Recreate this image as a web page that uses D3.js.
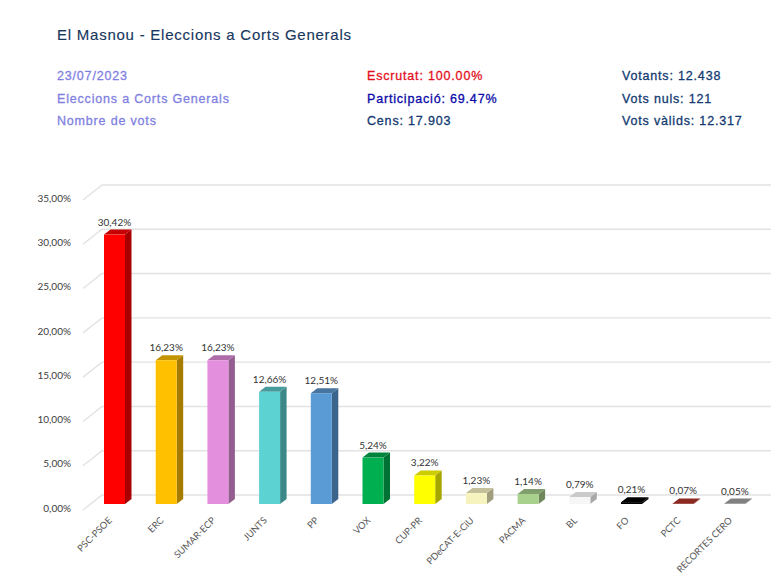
<!DOCTYPE html>
<html><head><meta charset="utf-8">
<script src="https://cdnjs.cloudflare.com/ajax/libs/d3/7.8.5/d3.min.js"></script>
<style>html,body{margin:0;padding:0;background:#fff}svg{display:block}</style>
</head><body><svg id="c" width="771" height="587"></svg>
<script>
const categories=["PSC-PSOE","ERC","SUMAR-ECP","JUNTS","PP","VOX","CUP-PR","PDeCAT-E-CiU","PACMA","BL","FO","PCTC","RECORTES CERO"];
const values=[30.42,16.23,16.23,12.66,12.51,5.24,3.22,1.23,1.14,0.79,0.21,0.07,0.05];
const frontColors=["#FF0000","#FFC000","#E48FDD","#5DD2D3","#5B9BD5","#00B050","#FFFF00","#F7F3BF","#A9D18E","#F6F6F6","#000000","#8C2A22","#808080"];
const sideColors=["#A80000","#A67C00","#945D90","#3C8889","#3B658A","#007233","#A6A600","#A09E7C","#6E885C","#A8A8A8","#000000","#8C2A22","#808080"];
const topColors=["#C40000","#C49400","#AE6DA8","#469C9D","#47759F","#00843C","#CCCC00","#C4C19A","#7F9E6B","#CACACA","#000000","#8C2A22","#808080"];
const yTicks=[0,5,10,15,20,25,30,35];
const headerRows=[
 {x:57,y:80,t:"23/07/2023",c:"#7F7FE2"},
 {x:57,y:103,t:"Eleccions a Corts Generals",c:"#7F7FE2"},
 {x:57,y:125,t:"Nombre de vots",c:"#7F7FE2"},
 {x:367,y:80,t:"Escrutat: 100.00%",c:"#E2101E"},
 {x:367,y:103,t:"Participació: 69.47%",c:"#0A0AA8"},
 {x:367,y:125,t:"Cens: 17.903",c:"#123A70"},
 {x:622,y:80,t:"Votants: 12.438",c:"#123A70"},
 {x:622,y:103,t:"Vots nuls: 121",c:"#123A70"},
 {x:622,y:125,t:"Vots vàlids: 12.317",c:"#123A70"}];
const svg=d3.select("#c");
const depthX=6.5, depthY=5;
const y=d3.scaleLinear().domain([0,35]).range([504,194]);
const x=d3.scaleBand().domain(categories).range([88.65,760.75]).paddingInner(0.594).paddingOuter(0.297);
const fmt=v=>v.toFixed(2).replace(".",",")+"%";

svg.append("text").attr("x",57).attr("y",40).attr("fill","#17375E")
  .style("font","15px 'Liberation Sans'").style("letter-spacing","0.76px")
  .style("stroke","#17375E").style("stroke-width","0.15px").text("El Masnou - Eleccions a Corts Generals");
svg.append("g").selectAll("text").data(headerRows).join("text")
  .attr("x",d=>d.x).attr("y",d=>d.y).attr("fill",d=>d.c)
  .style("font","12.5px 'Liberation Sans'").style("letter-spacing","0.82px")
  .style("stroke",d=>d.c).style("stroke-width","0.3px").text(d=>d.t);

// walls
const grid=svg.append("g").attr("fill","none").attr("stroke","#E2E2E2").attr("stroke-width",1.4);
grid.selectAll("path").data(yTicks).join("path")
  .attr("d",d=>`M83,${y(d)+6}L102,${y(d)-9}L771,${y(d)-9}`);

// y axis labels
const ax=svg.append("g").attr("transform","translate(71,4)")
  .call(d3.axisLeft(y).tickValues(yTicks).tickSize(0).tickPadding(0).tickFormat(fmt));
ax.select(".domain").remove();
ax.selectAll("text").attr("fill","#404040").style("font","10px Lato");

// bars
const bars=svg.append("g").selectAll("g").data(categories).join("g");
const pts=a=>a.map(p=>p.join(",")).join(" ");
bars.each(function(c,i){
  const g=d3.select(this), l=x(c), r=l+x.bandwidth(), b=y(0), t=y(values[i]);
  g.append("polygon").attr("fill",sideColors[i]).attr("points",pts([[r,t],[r+depthX,t-depthY],[r+depthX,b-depthY],[r,b]]));
  g.append("polygon").attr("fill",topColors[i]).attr("points",pts([[l,t],[l+depthX,t-depthY],[r+depthX,t-depthY],[r,t]]));
  g.append("rect").attr("x",l).attr("y",t).attr("width",x.bandwidth()).attr("height",Math.max(b-t,0.3)).attr("fill",frontColors[i]);
  g.append("text").attr("x",l+x.bandwidth()/2).attr("y",t-9).attr("text-anchor","middle")
    .attr("fill","#333").style("font","10px Lato").text(fmt(values[i]));
});

// x labels
const xa=svg.append("g").attr("transform","translate(-2,521)")
  .call(d3.axisBottom(x).tickSize(0).tickPadding(0));
xa.select(".domain").remove();
xa.selectAll("text").attr("text-anchor","end").attr("dy",0).attr("y",0)
  .attr("transform","rotate(-45)").attr("fill","#595959").style("font","9.4px Lato");
</script></body></html>
